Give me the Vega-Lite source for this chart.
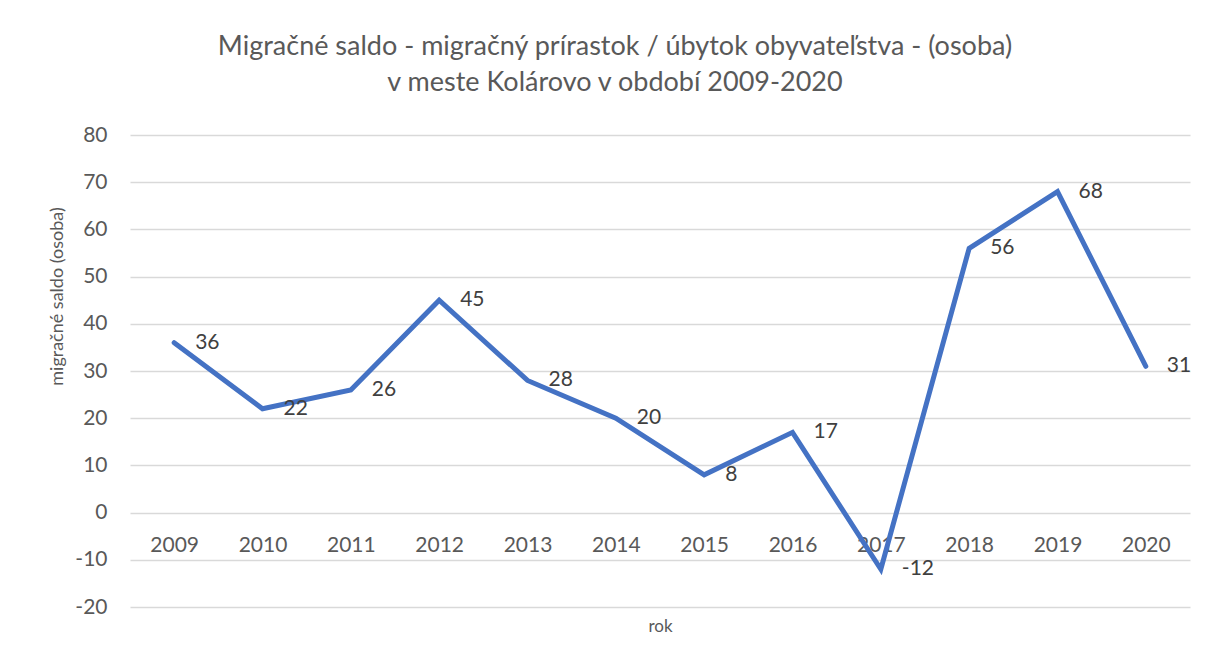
{
  "$schema": "https://vega.github.io/schema/vega-lite/v6.json",
  "width": 1060,
  "height": 472,
  "autosize": "none",
  "padding": {"left": 130, "top": 135, "right": 18, "bottom": 55},
  "background": "white",
  "config": {
    "view": {"stroke": null},
    "font": "Lato",
    "locale": {"number": {"decimal": ".", "thousands": ",", "grouping": [3], "currency": ["$", ""], "minus": "-"}}
  },
  "title": {
    "text": ["Migračné saldo - migračný prírastok / úbytok obyvateľstva - (osoba)", "v meste Kolárovo v období 2009-2020"],
    "anchor": "middle",
    "frame": "group",
    "dx": -45,
    "offset": 27,
    "fontSize": 27,
    "lineHeight": 36,
    "font": "Lato",
    "fontWeight": "normal",
    "color": "#595959"
  },
  "data": {
    "values": [
      {"rok": "2009", "saldo": 36},
      {"rok": "2010", "saldo": 22},
      {"rok": "2011", "saldo": 26},
      {"rok": "2012", "saldo": 45},
      {"rok": "2013", "saldo": 28},
      {"rok": "2014", "saldo": 20},
      {"rok": "2015", "saldo": 8},
      {"rok": "2016", "saldo": 17},
      {"rok": "2017", "saldo": -12},
      {"rok": "2018", "saldo": 56},
      {"rok": "2019", "saldo": 68},
      {"rok": "2020", "saldo": 31}
    ]
  },
  "encoding": {
    "x": {
      "field": "rok",
      "type": "ordinal",
      "scale": {"type": "point", "padding": 0.5},
      "axis": {
        "title": "rok",
        "offset": -93,
        "domain": false,
        "ticks": false,
        "grid": false,
        "labelAngle": 0,
        "labelBaseline": "middle",
        "labelPadding": 31,
        "labelFontSize": 21,
        "labelColor": "#595959",
        "labelFont": "Lato",
        "titleFont": "Lato",
        "titleFontSize": 17,
        "titleFontWeight": "normal",
        "titleColor": "#595959",
        "titleBaseline": "middle",
        "titleY": 112
      }
    },
    "y": {
      "field": "saldo",
      "type": "quantitative",
      "scale": {"domain": [-20, 80], "nice": false, "zero": false},
      "axis": {
        "title": "migračné saldo (osoba)",
        "values": [-20, -10, 0, 10, 20, 30, 40, 50, 60, 70, 80],
        "domain": false,
        "ticks": false,
        "gridColor": "#D9D9D9",
        "gridWidth": 1.5,
        "labelPadding": 23,
        "labelFontSize": 21,
        "labelColor": "#595959",
        "labelFont": "Lato",
        "titleFont": "Lato",
        "titleFontSize": 18,
        "titleFontWeight": "normal",
        "titleColor": "#595959",
        "titlePadding": 8,
        "titleY": 161,
        "titleAlign": "center"
      }
    }
  },
  "layer": [
    {
      "mark": {"type": "line", "color": "#4472C4", "strokeWidth": 5, "strokeCap": "round", "strokeJoin": "miter"}
    },
    {
      "mark": {"type": "text", "align": "left", "baseline": "middle", "dx": 21, "fontSize": 21, "font": "Lato", "color": "#404040"},
      "encoding": {"text": {"field": "saldo", "type": "quantitative"}}
    }
  ]
}
